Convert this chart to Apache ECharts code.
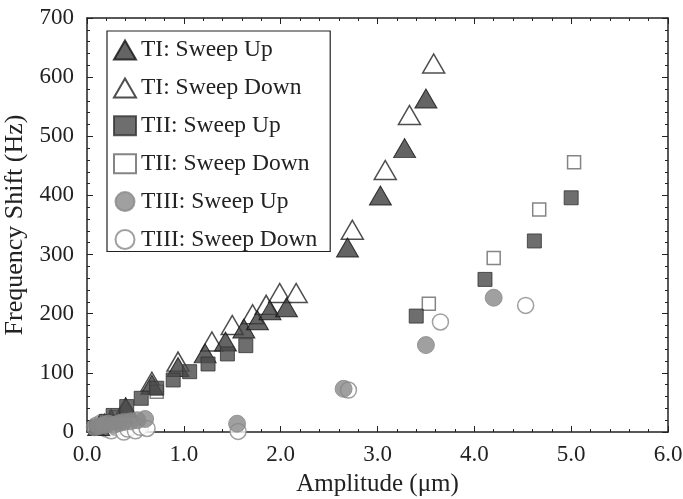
<!DOCTYPE html>
<html>
<head>
<meta charset="utf-8">
<script src="https://cdn.jsdelivr.net/npm/echarts@6/dist/echarts.min.js"></script>
<style>
  html, body { margin: 0; padding: 0; background: #fff; }
  #chart { width: 683px; height: 499px; }
</style>
</head>
<body>
<div id="chart"></div>
<script>
// [amplitude (um), frequency shift (Hz)]
var tiUp = [[0.12, 10], [0.25, 22], [0.4, 42], [0.67, 80], [0.94, 110], [1.22, 133], [1.43, 153],
  [1.62, 175], [1.76, 189], [1.89, 206], [2.06, 211], [2.69, 312], [3.03, 400], [3.28, 480], [3.5, 564]];
var tiDown = [[0.18, 14], [0.4, 40], [0.67, 85], [0.94, 119], [1.29, 153], [1.5, 181], [1.71, 199],
  [1.85, 215], [1.99, 235], [2.16, 235], [2.74, 342], [3.08, 443], [3.33, 536], [3.58, 623]];
var tiiUp = [[0.1, 8], [0.2, 18], [0.27, 28], [0.41, 43], [0.56, 57], [0.72, 74], [0.89, 88],
  [1.06, 102], [1.25, 115], [1.45, 132], [1.64, 146], [3.4, 196], [4.11, 258], [4.62, 323], [5.0, 396]];
var tiiDown = [[0.15, 10], [0.3, 25], [0.72, 68], [3.53, 217], [4.2, 294], [4.67, 376], [5.03, 456]];
var tiiiUp = [[0.08, 8], [0.12, 10], [0.18, 12], [0.22, 14], [0.28, 12], [0.33, 15], [0.38, 17],
  [0.45, 18], [0.52, 20], [0.6, 22], [1.55, 14], [2.65, 73], [3.5, 147], [4.2, 227]];
var tiiiDown = [[0.1, 12], [0.15, 16], [0.2, 5], [0.25, 2], [0.3, 8], [0.38, 0], [0.42, 5],
  [0.5, 2], [0.55, 8], [0.62, 6], [1.56, 1], [2.7, 71], [3.65, 186], [4.53, 214]];

var seriesNames = ['TI: Sweep Up', 'TI: Sweep Down', 'TII: Sweep Up', 'TII: Sweep Down', 'TIII: Sweep Up', 'TIII: Sweep Down'];

var font = 'Liberation Serif, Times New Roman, serif';

// axis used for frame (top/right), no labels
function frameAxis(extra) {
  return Object.assign({
    axisLine: { show: true, onZero: false, lineStyle: { color: '#222', width: 1.5 } },
    axisTick: { show: true, inside: true, length: 6, lineStyle: { color: '#222' } },
    minorTick: { show: true, splitNumber: 5, length: 3, lineStyle: { color: '#222' } },
    axisLabel: { show: false },
    splitLine: { show: false }
  }, extra);
}

var chart = echarts.init(document.getElementById('chart'));
chart.setOption({
  backgroundColor: '#fff',
  animation: false,
  textStyle: { fontFamily: font },
  grid: { left: 87, right: 15, top: 18, bottom: 67, containLabel: false, outerBoundsMode: 'none' },
  legend: {
    orient: 'vertical',
    left: 107,
    top: 31,
    padding: [7, 13, 0, 6],
    itemWidth: 22,
    itemHeight: 19,
    itemGap: 13.9,
    borderColor: '#222',
    borderWidth: 1.2,
    backgroundColor: '#fff',
    textStyle: { fontFamily: font, fontSize: 23.5, color: '#222' },
    data: seriesNames
  },
  xAxis: [
    {
      type: 'value', min: 0, max: 6, interval: 1,
      name: 'Amplitude (\u03bcm)', nameLocation: 'middle', nameGap: 40,
      nameTextStyle: { fontFamily: font, fontSize: 25, color: '#222' },
      axisLine: { onZero: false, lineStyle: { color: '#222', width: 1.5 } },
      axisTick: { inside: true, length: 6, lineStyle: { color: '#222' } },
      minorTick: { show: true, splitNumber: 5, length: 3, lineStyle: { color: '#222' } },
      axisLabel: { fontFamily: font, fontSize: 23, color: '#222', margin: 11,
        formatter: function (v) { return v.toFixed(1); } },
      splitLine: { show: false }
    },
    frameAxis({ type: 'value', position: 'top', min: 0, max: 6, interval: 1 })
  ],
  yAxis: [
    {
      type: 'value', min: 0, max: 700, interval: 100,
      name: 'Frequency Shift (Hz)', nameLocation: 'middle', nameGap: 53,
      nameTextStyle: { fontFamily: font, fontSize: 26, color: '#222' },
      axisLine: { show: true, onZero: false, lineStyle: { color: '#222', width: 1.5 } },
      axisTick: { show: true, inside: true, length: 6, lineStyle: { color: '#222' } },
      minorTick: { show: true, splitNumber: 5, length: 3, lineStyle: { color: '#222' } },
      axisLabel: { fontFamily: font, fontSize: 23, color: '#222', margin: 13 },
      splitLine: { show: false }
    },
    frameAxis({ type: 'value', position: 'right', min: 0, max: 700, interval: 100 })
  ],
  series: [
    {
      name: seriesNames[0], type: 'scatter', data: tiUp, symbol: 'triangle', symbolSize: [22, 19], z: 3,
      itemStyle: { color: '#3d3d3d', borderColor: '#111', borderWidth: 1 }
    },
    {
      name: seriesNames[1], type: 'scatter', data: tiDown, symbol: 'triangle', symbolSize: [22, 19], z: 2,
      itemStyle: { color: '#fff', borderColor: '#222', borderWidth: 1.5 }
    },
    {
      name: seriesNames[2], type: 'scatter', data: tiiUp, symbol: 'rect', symbolSize: 14, z: 4,
      itemStyle: { color: '#4a4a4a', borderColor: '#333', borderWidth: 1 }
    },
    {
      name: seriesNames[3], type: 'scatter', data: tiiDown, symbol: 'rect', symbolSize: 13, z: 2,
      itemStyle: { color: '#fff', borderColor: '#666', borderWidth: 1.5 }
    },
    {
      name: seriesNames[4], type: 'scatter', data: tiiiUp, symbol: 'circle', symbolSize: 17, z: 5,
      itemStyle: { color: '#888', borderColor: '#888', borderWidth: 1 }
    },
    {
      name: seriesNames[5], type: 'scatter', data: tiiiDown, symbol: 'circle', symbolSize: 16, z: 2,
      itemStyle: { color: '#fff', borderColor: '#888', borderWidth: 1.5 }
    }
  ]
});
window.onresize = chart.resize;
</script>
</body>
</html>
